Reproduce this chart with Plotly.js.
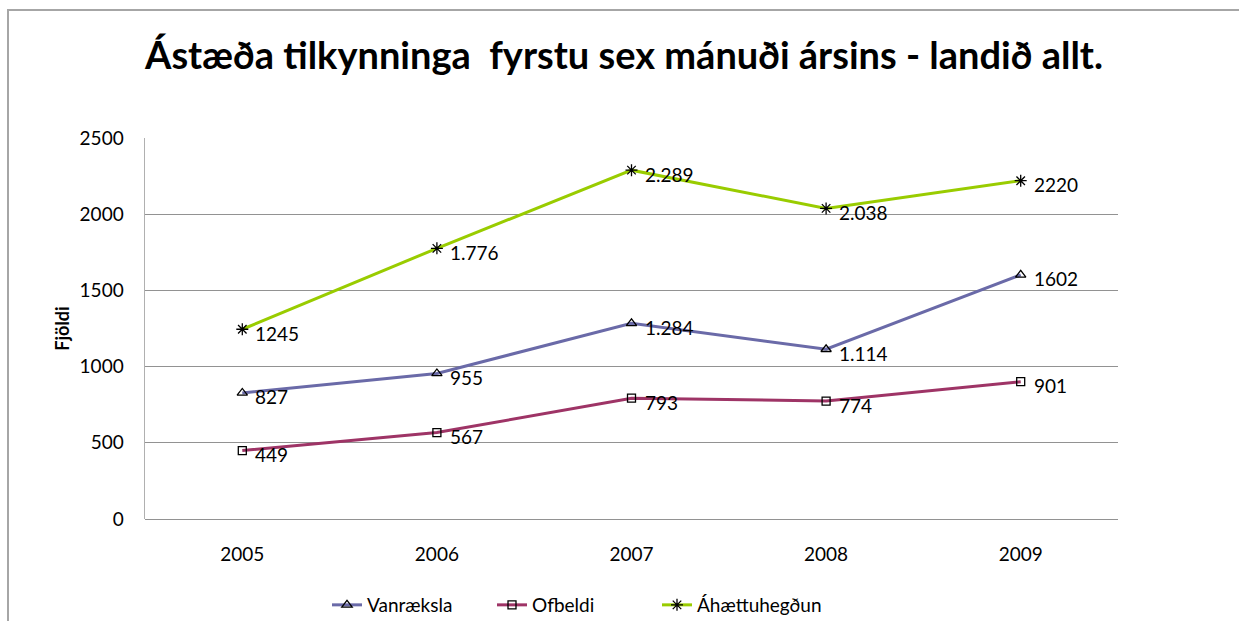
<!DOCTYPE html>
<html>
<head>
<meta charset="utf-8">
<script src="https://cdn.plot.ly/plotly-3.0.1.min.js"></script>
<style>
  html, body { margin: 0; padding: 0; background: #fff; }
  #wrap { position: relative; width: 1239px; height: 621px; overflow: hidden; }
  #chart { position: absolute; left: 0; top: 0; width: 1239px; height: 621px; }
  #frame { position: absolute; left: 7px; top: 9px; width: 1240px; height: 620px;
           border-left: 2px solid #a6a6a6; border-top: 2px solid #a6a6a6; pointer-events: none; }
</style>
</head>
<body>
<div id="wrap">
  <div id="chart"></div>
  <div id="frame"></div>
</div>
<script>
// years on the category axis
const years = ['2005', '2006', '2007', '2008', '2009'];

// values per series, and the labels as they are printed on the chart
const vanraekslaVals = [827, 955, 1284, 1114, 1602];
const vanraekslaLabels = ['827', '955', '1.284', '1.114', '1602'];

const ofbeldiVals = [449, 567, 793, 774, 901];
const ofbeldiLabels = ['449', '567', '793', '774', '901'];

const ahaettaVals = [1245, 1776, 2289, 2038, 2220];
const ahaettaLabels = ['1245', '1.776', '2.289', '2.038', '2220'];

const FONT = 'Lato, "DejaVu Sans", sans-serif';

function series(name, vals, color, symbol, size) {
    return {
        x: years,
        y: vals,
        name: name,
        type: 'scatter',
        mode: 'lines+markers',
        line: { color: color, width: 3 },
        marker: { symbol: symbol, size: size, color: '#000', line: { color: '#000', width: 1.3 } }
    };
}

// data labels, placed by category index so the numeric-looking years are not misread
function pointLabels(vals, texts) {
    return vals.map((v, i) => ({
        x: i,
        y: v,
        text: texts[i],
        showarrow: false,
        xanchor: 'left',
        yanchor: 'middle',
        xshift: 11,
        yshift: -4,
        font: { family: FONT, size: 19, color: '#000' }
    }));
}

const traces = [
    series('Vanræksla', vanraekslaVals, '#6a6aa8', 'triangle-up-open', 9),
    series('Ofbeldi', ofbeldiVals, '#9e3466', 'square-open', 8),
    series('Áhættuhegðun', ahaettaVals, '#99cc00', 'asterisk-open', 10)
];

const layout = {
    width: 1239,
    height: 621,
    margin: { l: 145, r: 121, t: 138, b: 102 },
    paper_bgcolor: '#fff',
    plot_bgcolor: '#fff',
    font: { family: FONT, size: 19, color: '#000' },
    showlegend: true,
    title: {
        text: '<b>Ástæða tilkynninga  fyrstu sex mánuði ársins - landið allt.</b>',
        font: { family: FONT, size: 38, color: '#000' },
        xref: 'container', x: 624 / 1239, xanchor: 'center',
        yref: 'container', y: 1 - 56 / 621, yanchor: 'middle'
    },
    xaxis: {
        type: 'category',
        range: [-0.5, 4.5],
        showgrid: false,
        zeroline: false,
        showline: false,
        ticks: '',
        ticklabelstandoff: 22,
        tickfont: { family: FONT, size: 19, color: '#000' },
        fixedrange: true
    },
    yaxis: {
        range: [0, 2500],
        dtick: 500,
        showgrid: true,
        gridcolor: '#929292',
        gridwidth: 1,
        zeroline: true,
        zerolinecolor: '#929292',
        zerolinewidth: 1,
        showline: true,
        linecolor: '#b0b0b0',
        linewidth: 1.5,
        ticks: '',
        ticklabelstandoff: 16,
        tickfont: { family: FONT, size: 19, color: '#000' },
        title: { text: '<b>Fjöldi</b>', font: { family: FONT, size: 18, color: '#000' }, standoff: 5 },
        fixedrange: true
    },
    legend: {
        orientation: 'h',
        xref: 'container', x: 327 / 1239, xanchor: 'left',
        yref: 'container', y: 1 - 605 / 621, yanchor: 'middle',
        font: { family: FONT, size: 19, color: '#000' },
        itemwidth: 30,
        entrywidth: 120,
        entrywidthmode: 'pixels',
        traceorder: 'normal'
    },
    annotations: [].concat(
        pointLabels(vanraekslaVals, vanraekslaLabels),
        pointLabels(ofbeldiVals, ofbeldiLabels),
        pointLabels(ahaettaVals, ahaettaLabels)
    )
};

Plotly.newPlot('chart', traces, layout, { displayModeBar: false, staticPlot: true });
</script>
</body>
</html>
